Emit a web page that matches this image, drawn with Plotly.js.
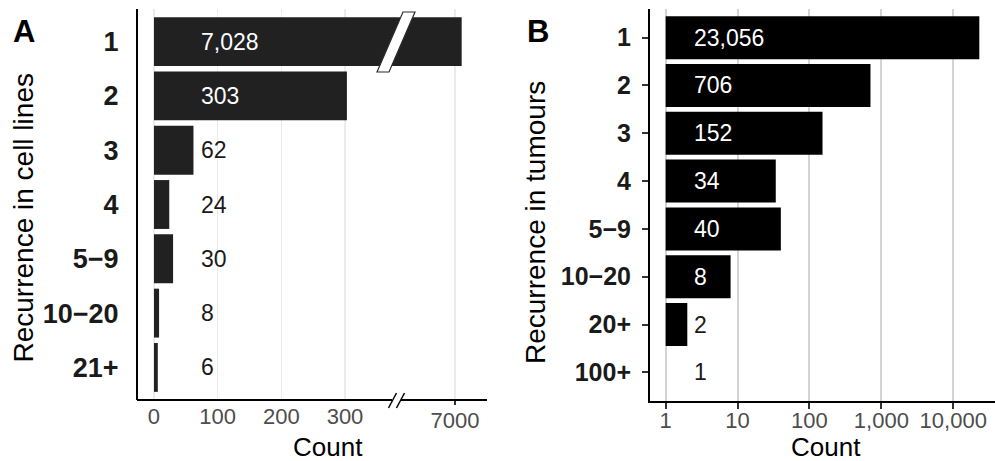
<!DOCTYPE html>
<html>
<head>
<meta charset="utf-8">
<script src="https://cdn.plot.ly/plotly-3.0.1.min.js"></script>
<style>
  html, body { margin: 0; padding: 0; background: #fff; }
  #chart { width: 995px; height: 461px; }
</style>
</head>
<body>
<div id="chart"></div>
<script>
// Panel A: recurrence of variants across cell lines
const cellCategories = ['1', '2', '3', '4', '5−9', '10−20', '21+'];
const cellCounts = [7028, 303, 62, 24, 30, 8, 6];
const cellTickVals = [0, 100, 200, 300];
const cellUpperTickVals = [7000];
const cellLabelX = 70;          // where the count labels start (data units)

// Panel B: recurrence of variants across tumours
const tumourCategories = ['1', '2', '3', '4', '5−9', '10−20', '20+', '100+'];
const tumourCounts = [23056, 706, 152, 34, 40, 8, 2, 1];
const tumourTickVals = [1, 10, 100, 1000, 10000];
const tumourTickText = ['1', '10', '100', '1,000', '10,000'];
const tumourLabelX = 2.3;       // where the count labels start (data units)

const W = 995, H = 461;
const px = v => v / W;          // pixel -> paper x
const py = v => 1 - v / H;      // pixel -> paper y
const FONT = '"Liberation Sans", Arial, Helvetica, sans-serif';
const fmt = v => v.toLocaleString('en-US');

// Broken x axis of panel A: the lower segment ends where the upper one starts
const breakPx = 396;
const axisYPx = 400;

const traces = [
  {
    type: 'bar', orientation: 'h', xaxis: 'x', yaxis: 'y',
    x: cellCounts, y: cellCategories,
    marker: { color: '#212121' }, hoverinfo: 'skip'
  },
  {
    type: 'bar', orientation: 'h', xaxis: 'x2', yaxis: 'y',
    x: cellCounts.slice(0, 1), y: cellCategories.slice(0, 1),
    marker: { color: '#212121' }, hoverinfo: 'skip'
  },
  {
    type: 'bar', orientation: 'h', xaxis: 'x3', yaxis: 'y2',
    // bars on the log axis grow from 1 up to the count
    base: 1, x: tumourCounts.map(c => c - 1), y: tumourCategories,
    marker: { color: '#000000' }, hoverinfo: 'skip'
  }
];

// Count labels; category positions are given by index
const annotations = [];
cellCategories.forEach((cat, i) => {
  annotations.push({
    xref: 'x', yref: 'y', x: cellLabelX, y: i,
    text: fmt(cellCounts[i]), showarrow: false, xanchor: 'left', yanchor: 'middle',
    font: { family: FONT, size: 23, color: cellCounts[i] > cellLabelX ? '#ffffff' : '#1a1a1a' }
  });
});
tumourCategories.forEach((cat, i) => {
  annotations.push({
    xref: 'x3', yref: 'y2', x: Math.log10(tumourLabelX), y: i,
    text: fmt(tumourCounts[i]), showarrow: false, xanchor: 'left', yanchor: 'middle',
    font: { family: FONT, size: 23, color: tumourCounts[i] > tumourLabelX ? '#ffffff' : '#1a1a1a' }
  });
});

// Panel letters and axis titles
annotations.push(
  { xref: 'paper', yref: 'paper', x: px(11), y: py(31), xanchor: 'left', yanchor: 'middle',
    text: '<b>A</b>', showarrow: false, font: { family: FONT, size: 31, color: '#000' } },
  { xref: 'paper', yref: 'paper', x: px(525), y: py(32), xanchor: 'left', yanchor: 'middle',
    text: '<b>B</b>', showarrow: false, font: { family: FONT, size: 31, color: '#000' } },
  { xref: 'paper', yref: 'paper', x: px(22.5), y: py(218), xanchor: 'center', yanchor: 'middle',
    textangle: -90, text: 'Recurrence in cell lines', showarrow: false,
    font: { family: FONT, size: 28, color: '#000' } },
  { xref: 'paper', yref: 'paper', x: px(535), y: py(223), xanchor: 'center', yanchor: 'middle',
    textangle: -90, text: 'Recurrence in tumours', showarrow: false,
    font: { family: FONT, size: 28, color: '#000' } },
  { xref: 'paper', yref: 'paper', x: px(328), y: py(447), xanchor: 'center', yanchor: 'middle',
    text: 'Count', showarrow: false, font: { family: FONT, size: 26, color: '#000' } },
  { xref: 'paper', yref: 'paper', x: px(826), y: py(447), xanchor: 'center', yanchor: 'middle',
    text: 'Count', showarrow: false, font: { family: FONT, size: 26, color: '#000' } }
);

const shapes = [
  // x axis line of panel A, interrupted at the break
  { type: 'line', xref: 'paper', yref: 'paper', x0: px(137), x1: px(392), y0: py(axisYPx), y1: py(axisYPx),
    line: { color: '#000', width: 2 } },
  { type: 'line', xref: 'paper', yref: 'paper', x0: px(401), x1: px(487), y0: py(axisYPx), y1: py(axisYPx),
    line: { color: '#000', width: 2 } },
  // break marks on the axis
  { type: 'line', xref: 'paper', yref: 'paper', x0: px(388.5), y0: py(408), x1: px(396.5), y1: py(393),
    line: { color: '#000', width: 1.5 } },
  { type: 'line', xref: 'paper', yref: 'paper', x0: px(396.5), y0: py(408), x1: px(404.5), y1: py(393),
    line: { color: '#000', width: 1.5 } },
  // break slash across the long bar
  { type: 'path', xref: 'paper', yref: 'paper', layer: 'above',
    path: 'M ' + px(377) + ' ' + py(72) + ' L ' + px(403) + ' ' + py(12) +
          ' L ' + px(415) + ' ' + py(12) + ' L ' + px(389) + ' ' + py(72) + ' Z',
    fillcolor: '#ffffff', line: { color: '#2a2a2a', width: 1.2 } }
];

const xTickFont = { family: FONT, size: 22, color: '#4d4d4d' };

const layout = {
  width: W, height: H,
  margin: { l: 0, r: 0, t: 0, b: 0 },
  paper_bgcolor: '#ffffff', plot_bgcolor: 'rgba(0,0,0,0)',
  showlegend: false, barmode: 'overlay', bargap: 0.1,
  font: { family: FONT, color: '#000' },
  xaxis: {
    domain: [px(138), px(breakPx)], anchor: 'y', range: [-25.1, 380.1],
    tickmode: 'array', tickvals: cellTickVals, ticktext: cellTickVals.map(String),
    showgrid: true, gridcolor: '#ebebeb', gridwidth: 1.5, zeroline: false, showline: false,
    ticks: '', tickfont: xTickFont, ticklabelstandoff: 1, fixedrange: true
  },
  xaxis2: {
    domain: [px(breakPx), px(487)], anchor: 'y', range: [6753, 7134],
    tickmode: 'array', tickvals: cellUpperTickVals, ticktext: cellUpperTickVals.map(String),
    showgrid: true, gridcolor: '#ebebeb', gridwidth: 1.5, zeroline: false, showline: false,
    ticks: 'outside', ticklen: 4, tickwidth: 1.5, tickcolor: '#333',
    tickfont: xTickFont, ticklabelstandoff: -3, fixedrange: true
  },
  yaxis: {
    domain: [py(400), py(9)], anchor: 'x', type: 'category',
    categoryorder: 'array', categoryarray: cellCategories, range: [6.6, -0.6],
    showline: true, linecolor: '#000', linewidth: 2, showgrid: false, zeroline: false,
    ticks: '', ticklabelstandoff: 12,
    tickfont: { family: FONT, size: 27, color: '#1a1a1a', weight: 'bold' }, fixedrange: true
  },
  xaxis3: {
    domain: [px(650), 1], anchor: 'y2', type: 'log', range: [-0.218, 4.581],
    tickmode: 'array', tickvals: tumourTickVals, ticktext: tumourTickText,
    showgrid: true, gridcolor: '#d4d4d4', gridwidth: 2, zeroline: false,
    showline: true, linecolor: '#000', linewidth: 2,
    ticks: 'outside', ticklen: 6, tickwidth: 2, tickcolor: '#333',
    tickfont: xTickFont, ticklabelstandoff: -7, fixedrange: true
  },
  yaxis2: {
    domain: [py(401), py(9)], anchor: 'x3', type: 'category',
    categoryorder: 'array', categoryarray: tumourCategories, range: [7.6, -0.6],
    showline: true, linecolor: '#000', linewidth: 2, showgrid: false, zeroline: false,
    ticks: 'outside', ticklen: 6, tickwidth: 2, tickcolor: '#333', ticklabelstandoff: 6,
    tickfont: { family: FONT, size: 25, color: '#1a1a1a', weight: 'bold' }, fixedrange: true
  },
  annotations: annotations,
  shapes: shapes
};

Plotly.newPlot('chart', traces, layout, { displayModeBar: false, staticPlot: true });
</script>
</body>
</html>
